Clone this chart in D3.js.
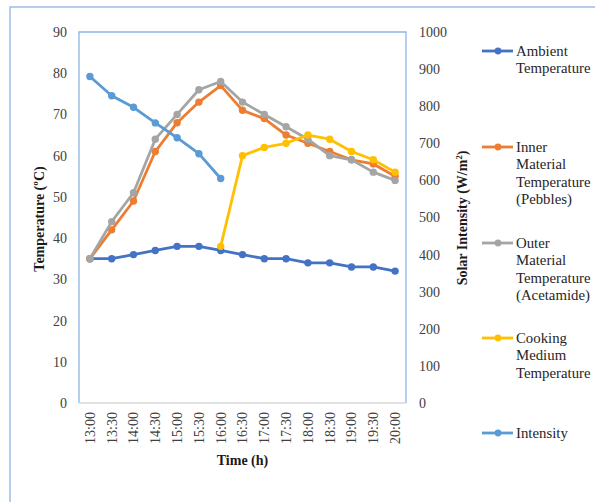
<!DOCTYPE html>
<html>
<head>
<meta charset="utf-8">
<script src="https://cdn.jsdelivr.net/npm/d3@7/dist/d3.min.js"></script>
<style>
  html, body { margin: 0; padding: 0; background: #fff; }
  svg text { font-family: "Liberation Serif", "Times New Roman", Times, "DejaVu Serif", serif !important; }
</style>
</head>
<body>
<svg id="chart" width="595" height="502"></svg>
<script>
// Half-hourly readings, 13:00 to 20:00
const times = ["13:00","13:30","14:00","14:30","15:00","15:30","16:00","16:30",
               "17:00","17:30","18:00","18:30","19:00","19:30","20:00"];

const ambientTemp = [35,35,36,37,38,38,37,36,35,35,34,34,33,33,32];
const innerTemp   = [35,42,49,61,68,73,77,71,69,65,63,61,59,58,55];
const outerTemp   = [35,44,51,64,70,76,78,73,70,67,64,60,59,56,54];
// cooking medium is only logged from 16:00 onwards
const cookingTemp = [null,null,null,null,null,null,38,60,62,63,65,64,61,59,56];
// solar intensity only logged until 16:00
const intensity   = [880,828,797,755,715,672,605,null,null,null,null,null,null,null,null];

const tempTicks = [0,10,20,30,40,50,60,70,80,90];
const solarTicks = [0,100,200,300,400,500,600,700,800,900,1000];

const seriesNames = ["Ambient Temperature", "Inner Material Temperature (Pebbles)",
  "Outer Material Temperature (Acetamide)", "Cooking Medium Temperature", "Intensity"];
const legendLines = [["Ambient","Temperature"],["Inner","Material","Temperature","(Pebbles)"],
  ["Outer","Material","Temperature","(Acetamide)"],["Cooking","Medium","Temperature"],["Intensity"]];
const colors = ["#4472C4","#ED7D31","#A5A5A5","#FFC000","#5B9BD5"];

const svg = d3.select("#chart");
const plot = { left: 79, top: 32, right: 406, bottom: 403 };
const tickColor = "#404040";

// outer chart frame (runs off the right and bottom edges)
svg.append("rect").attr("x", 10).attr("y", 7).attr("width", 600).attr("height", 520)
  .attr("fill", "none").attr("stroke", "#9DBCE3").attr("stroke-width", 1.5);

const x = d3.scaleBand().domain(times).range([plot.left, plot.right]);
const yT = d3.scaleLinear().domain([0, 90]).range([plot.bottom, plot.top]);
const yS = d3.scaleLinear().domain([0, 1000]).range([plot.bottom, plot.top]);
const cx = t => x(t) + x.bandwidth() / 2;

// plot area frame: blue on left, top, right; light grey baseline
svg.append("path")
  .attr("d", `M${plot.left},${plot.bottom}V${plot.top}H${plot.right}V${plot.bottom}`)
  .attr("fill", "none").attr("stroke", "#8EB4E3").attr("stroke-width", 1.3);
svg.append("line").attr("x1", plot.left).attr("x2", plot.right)
  .attr("y1", plot.bottom).attr("y2", plot.bottom)
  .attr("stroke", "#D9D9D9").attr("stroke-width", 1.3);

// left axis
const leftAxis = svg.append("g").attr("transform", `translate(${plot.left},0)`)
  .call(d3.axisLeft(yT).tickValues(tempTicks).tickFormat(d3.format("d")).tickSize(0).tickPadding(12));
leftAxis.select(".domain").remove();
leftAxis.selectAll("text").attr("font-size", 14).attr("fill", tickColor);

// right axis
const rightAxis = svg.append("g").attr("transform", `translate(${plot.right},0)`)
  .call(d3.axisRight(yS).tickValues(solarTicks).tickFormat(d3.format("d")).tickSize(0).tickPadding(13));
rightAxis.select(".domain").remove();
rightAxis.selectAll("text").attr("font-size", 14).attr("fill", tickColor);

// bottom axis, rotated time labels
const bottomAxis = svg.append("g").attr("transform", `translate(0,${plot.bottom})`)
  .call(d3.axisBottom(x).tickSize(0));
bottomAxis.select(".domain").remove();
bottomAxis.selectAll("text")
  .attr("font-size", 14).attr("fill", tickColor)
  .attr("transform", "rotate(-90)")
  .attr("x", -9).attr("y", 0).attr("dy", "0.35em")
  .attr("text-anchor", "end");

// axis titles
svg.append("text").attr("transform", `translate(44,219) rotate(-90)`)
  .attr("text-anchor", "middle").attr("font-size", 14).attr("font-weight", "bold")
  .attr("fill", "#1a1a1a").text("Temperature (ºC)");
svg.append("text").attr("transform", `translate(467,218) rotate(-90)`)
  .attr("text-anchor", "middle").attr("font-size", 14).attr("font-weight", "bold")
  .attr("fill", "#1a1a1a")
  .html('Solar Intensity (W/m<tspan baseline-shift="super" font-size="8.5">2</tspan>)');
svg.append("text").attr("x", (plot.left + plot.right) / 2).attr("y", 465)
  .attr("text-anchor", "middle").attr("font-size", 14).attr("font-weight", "bold")
  .attr("fill", "#1a1a1a").text("Time (h)");

// series
const series = [
  { vals: ambientTemp, y: yT },
  { vals: innerTemp, y: yT },
  { vals: outerTemp, y: yT },
  { vals: cookingTemp, y: yT },
  { vals: intensity, y: yS }
];

series.forEach((s, i) => {
  const pts = times.map((t, j) => ({ t, v: s.vals[j] })).filter(d => d.v != null);
  const line = d3.line().x(d => cx(d.t)).y(d => s.y(d.v));
  const g = svg.append("g");
  g.append("path").datum(pts).attr("d", line)
    .attr("fill", "none").attr("stroke", colors[i]).attr("stroke-width", 2.8)
    .attr("stroke-linejoin", "round");
  g.selectAll("circle").data(pts).join("circle")
    .attr("cx", d => cx(d.t)).attr("cy", d => s.y(d.v)).attr("r", 3.7)
    .attr("fill", colors[i]);
});

// legend
const legendTop = [56, 152, 248, 343, 438];
legendLines.forEach((lines, i) => {
  const g = svg.append("g").attr("aria-label", seriesNames[i]);
  const ly = legendTop[i] - 5;
  g.append("line").attr("x1", 482).attr("x2", 513).attr("y1", ly).attr("y2", ly)
    .attr("stroke", colors[i]).attr("stroke-width", 2.8);
  g.append("circle").attr("cx", 498).attr("cy", ly).attr("r", 3.4).attr("fill", colors[i]);
  lines.forEach((txt, k) => {
    g.append("text").attr("x", 516).attr("y", legendTop[i] + k * 17.4)
      .attr("font-size", 14.8).attr("fill", "#262626").text(txt);
  });
});
</script>
</body>
</html>
